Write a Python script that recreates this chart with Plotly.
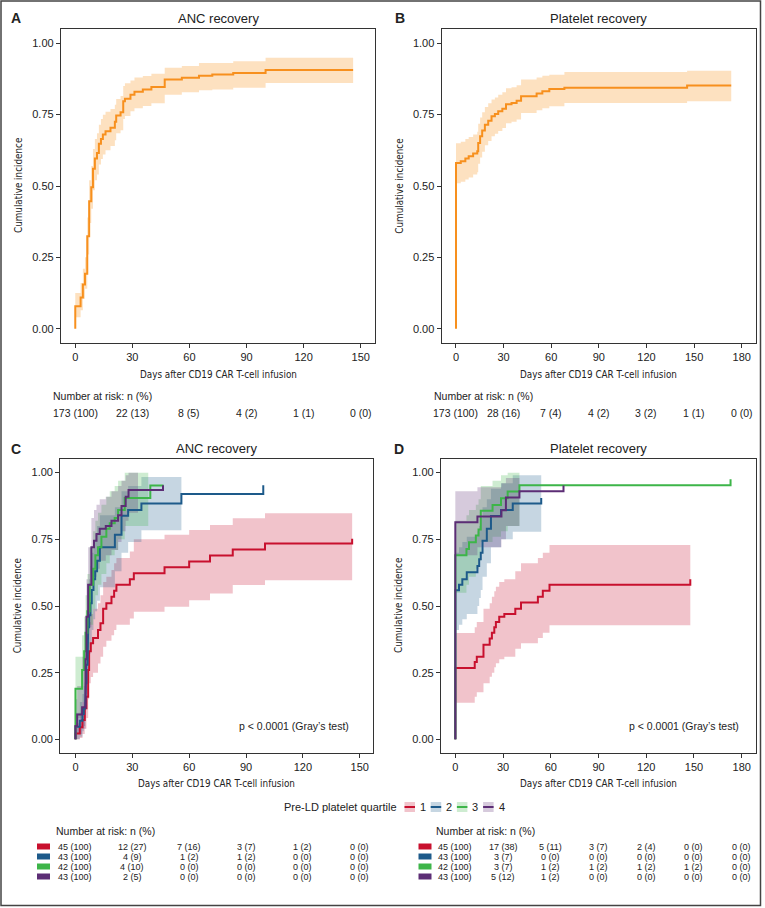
import plotly.graph_objects as go

# ---------------- data ----------------
# Panel A: ANC recovery (all patients)
A_t  = [0, 2.8, 4.0, 5.1, 6.3, 7.3, 8.4, 9.3, 10.3, 11.4, 12.4, 13.5, 14.5, 15.9, 18.5, 20.8, 21.5, 23.8, 25.2, 26.1, 29, 31.1, 35.5, 40, 47, 56, 65, 72, 83, 100]
A_ci = [0.079, 0.109, 0.155, 0.193, 0.324, 0.447, 0.496, 0.56, 0.596, 0.616, 0.648, 0.665, 0.68, 0.692, 0.704, 0.725, 0.747, 0.758, 0.797, 0.806, 0.82, 0.83, 0.838, 0.847, 0.873, 0.879, 0.886, 0.891, 0.896, 0.906]
A_lo = [0.04, 0.065, 0.105, 0.14, 0.26, 0.37, 0.42, 0.485, 0.52, 0.54, 0.575, 0.595, 0.61, 0.625, 0.64, 0.66, 0.685, 0.695, 0.735, 0.745, 0.762, 0.772, 0.78, 0.79, 0.82, 0.828, 0.835, 0.838, 0.844, 0.861]
A_hi = [0.125, 0.16, 0.21, 0.25, 0.39, 0.52, 0.57, 0.63, 0.665, 0.685, 0.715, 0.735, 0.75, 0.76, 0.77, 0.785, 0.805, 0.815, 0.85, 0.86, 0.87, 0.88, 0.885, 0.893, 0.914, 0.92, 0.931, 0.931, 0.937, 0.949]
A_end = 146

# Panel B: Platelet recovery (all patients)
B_t  = [0, 3.0, 5.9, 8, 10.8, 13.4, 14, 15.2, 16.5, 18.2, 20.3, 22.4, 24.5, 26.6, 29.2, 31.5, 35, 38.2, 41, 50.8, 54.4, 58.8, 68.3, 145.6]
B_ci = [0.581, 0.587, 0.596, 0.604, 0.614, 0.622, 0.651, 0.674, 0.694, 0.715, 0.729, 0.744, 0.752, 0.762, 0.771, 0.786, 0.791, 0.799, 0.814, 0.824, 0.832, 0.840, 0.844, 0.852]
B_lo = [0.51, 0.515, 0.523, 0.53, 0.54, 0.548, 0.578, 0.60, 0.62, 0.643, 0.658, 0.674, 0.683, 0.693, 0.703, 0.72, 0.725, 0.733, 0.756, 0.765, 0.772, 0.779, 0.791, 0.797]
B_hi = [0.65, 0.655, 0.665, 0.672, 0.68, 0.69, 0.718, 0.74, 0.758, 0.777, 0.79, 0.803, 0.81, 0.82, 0.828, 0.842, 0.846, 0.853, 0.873, 0.88, 0.886, 0.89, 0.899, 0.904]
B_end = 173.4

# Panel C: ANC recovery by pre-LD platelet quartile
Cq1_t  = [0, 2.3, 3.7, 4.9, 5.8, 6.7, 7.2, 8.1, 9.3, 11.9, 13.2, 14.6, 16.3, 19, 20.4, 21.6, 28.7, 30.8, 47, 60, 71, 83, 100, 146]
Cq1_ci = [0.022, 0.045, 0.073, 0.117, 0.16, 0.26, 0.33, 0.36, 0.38, 0.41, 0.435, 0.49, 0.51, 0.535, 0.557, 0.58, 0.60, 0.623, 0.645, 0.667, 0.689, 0.712, 0.734, 0.752]
Cq1_lo = [0.0, 0.005, 0.02, 0.04, 0.08, 0.15, 0.21, 0.234, 0.25, 0.284, 0.31, 0.347, 0.37, 0.39, 0.41, 0.43, 0.453, 0.478, 0.497, 0.522, 0.547, 0.579, 0.597, 0.597]
Cq1_hi = [0.06, 0.1, 0.14, 0.2, 0.25, 0.37, 0.44, 0.47, 0.49, 0.51, 0.54, 0.59, 0.61, 0.635, 0.66, 0.68, 0.704, 0.75, 0.767, 0.785, 0.804, 0.829, 0.848, 0.87]
Cq1_end, Cq1_band_end = 146, 146

Cq2_t  = [0, 2.3, 3.7, 4.4, 5.1, 5.5, 5.8, 6.4, 6.7, 7.2, 7.9, 8.6, 9.5, 10.4, 11.4, 12.9, 20.8, 24.3, 27.8, 34.8, 55.9, 99.1]
Cq2_ci = [0.047, 0.07, 0.095, 0.116, 0.16, 0.21, 0.28, 0.35, 0.42, 0.465, 0.51, 0.56, 0.60, 0.63, 0.67, 0.72, 0.767, 0.838, 0.86, 0.884, 0.92, 0.953]
Cq2_lo = [0.0, 0.01, 0.03, 0.05, 0.08, 0.12, 0.17, 0.23, 0.28, 0.32, 0.36, 0.41, 0.45, 0.48, 0.52, 0.57, 0.63, 0.70, 0.74, 0.784]
Cq2_hi = [0.10, 0.14, 0.17, 0.20, 0.25, 0.31, 0.39, 0.47, 0.55, 0.60, 0.65, 0.70, 0.74, 0.77, 0.80, 0.84, 0.87, 0.93, 0.95, 0.984]
Cq2_end, Cq2_band_end = 99.1, 55.9

Cq3_t  = [0, 3.5, 4.6, 5.3, 6.3, 7.5, 9.3, 10.5, 11.9, 13.7, 16.3, 18.1, 20.7, 22.5, 26, 39.5]
Cq3_ci = [0.19, 0.26, 0.33, 0.40, 0.48, 0.58, 0.64, 0.69, 0.72, 0.76, 0.79, 0.81, 0.83, 0.86, 0.905, 0.952]
Cq3_lo = [0.08, 0.14, 0.20, 0.26, 0.33, 0.43, 0.49, 0.54, 0.58, 0.62, 0.66, 0.69, 0.71, 0.75, 0.80]
Cq3_hi = [0.31, 0.39, 0.46, 0.54, 0.62, 0.72, 0.78, 0.82, 0.85, 0.88, 0.91, 0.93, 0.95, 0.97, 1.0]
Cq3_end, Cq3_band_end = 46.5, 38.4

Cq4_t  = [0, 0.9, 3.5, 5.3, 5.8, 6.7, 8.4, 9.8, 11.1, 12.8, 16, 19, 22.5, 24.3, 26.5, 28, 46.2]
Cq4_ci = [0.05, 0.093, 0.12, 0.3, 0.46, 0.58, 0.72, 0.745, 0.77, 0.79, 0.80, 0.82, 0.84, 0.875, 0.91, 0.935, 0.953]
Cq4_lo = [0.0, 0.02, 0.04, 0.15, 0.30, 0.42, 0.58, 0.61, 0.64, 0.67, 0.69, 0.71, 0.74, 0.78, 0.82, 0.85]
Cq4_hi = [0.15, 0.2, 0.31, 0.45, 0.60, 0.72, 0.83, 0.86, 0.88, 0.90, 0.91, 0.93, 0.95, 0.97, 0.99, 1.0]
Cq4_end, Cq4_band_end = 46.2, 33

# Panel D: Platelet recovery by pre-LD platelet quartile
Dq1_t  = [0, 12.2, 13.5, 17.7, 21.6, 23, 24.5, 25.5, 27.6, 30.8, 37.7, 41.3, 51.9, 55, 59.2, 147.7]
Dq1_ci = [0.268, 0.29, 0.31, 0.355, 0.378, 0.40, 0.42, 0.44, 0.46, 0.47, 0.49, 0.513, 0.535, 0.557, 0.58, 0.60]
Dq1_lo = [0.137, 0.16, 0.177, 0.21, 0.235, 0.25, 0.27, 0.285, 0.30, 0.31, 0.34, 0.36, 0.38, 0.40, 0.428, 0.45]
Dq1_hi = [0.399, 0.42, 0.44, 0.49, 0.51, 0.535, 0.555, 0.572, 0.59, 0.60, 0.63, 0.66, 0.68, 0.70, 0.729, 0.754]
Dq1_end, Dq1_band_end = 147.7, 147.7

Dq2_t  = [0, 2.3, 4.4, 7.2, 13.9, 15, 16, 17.1, 19.8, 22.4, 28.7, 36.1, 54]
Dq2_ci = [0.559, 0.58, 0.60, 0.627, 0.65, 0.675, 0.70, 0.745, 0.79, 0.837, 0.86, 0.884, 0.905]
Dq2_lo = [0.41, 0.43, 0.45, 0.47, 0.50, 0.53, 0.56, 0.61, 0.66, 0.72, 0.75, 0.778]
Dq2_hi = [0.70, 0.72, 0.74, 0.76, 0.78, 0.80, 0.83, 0.87, 0.90, 0.94, 0.96, 0.99]
Dq2_end, Dq2_band_end = 54, 54

Dq3_t  = [0, 7, 8.6, 12.9, 14.6, 16, 23.4, 28.7, 32.9, 40.3, 173]
Dq3_ci = [0.69, 0.714, 0.739, 0.764, 0.787, 0.857, 0.879, 0.904, 0.929, 0.953, 0.975]
Dq3_lo = [0.55, 0.58, 0.61, 0.64, 0.67, 0.74, 0.76, 0.78, 0.80]
Dq3_hi = [0.82, 0.84, 0.86, 0.88, 0.90, 0.95, 0.97, 0.99, 1.0]
Dq3_end, Dq3_band_end = 173, 40.3

Dq4_t  = [0, 13.9, 29, 31.8, 40.3, 68]
Dq4_ci = [0.814, 0.836, 0.859, 0.907, 0.930, 0.952]
Dq4_lo = [0.69, 0.72, 0.75, 0.80]
Dq4_hi = [0.93, 0.945, 0.96, 0.98]
Dq4_end, Dq4_band_end = 68, 40.3

# risk tables
AC_days = [0, 30, 60, 90, 120, 150]
BD_days = [0, 30, 60, 90, 120, 150, 180]
A_risk = ["173 (100)", "22 (13)", "8 (5)", "4 (2)", "1 (1)", "0 (0)"]
B_risk = ["173 (100)", "28 (16)", "7 (4)", "4 (2)", "3 (2)", "1 (1)", "0 (0)"]
C_risk = [
    ["45 (100)", "12 (27)", "7 (16)", "3 (7)", "1 (2)", "0 (0)"],
    ["43 (100)", "4 (9)", "1 (2)", "1 (2)", "0 (0)", "0 (0)"],
    ["42 (100)", "4 (10)", "0 (0)", "0 (0)", "0 (0)", "0 (0)"],
    ["43 (100)", "2 (5)", "0 (0)", "0 (0)", "0 (0)", "0 (0)"],
]
D_risk = [
    ["45 (100)", "17 (38)", "5 (11)", "3 (7)", "2 (4)", "0 (0)", "0 (0)"],
    ["43 (100)", "3 (7)", "0 (0)", "0 (0)", "0 (0)", "0 (0)", "0 (0)"],
    ["42 (100)", "3 (7)", "1 (2)", "1 (2)", "1 (2)", "1 (2)", "0 (0)"],
    ["43 (100)", "5 (12)", "1 (2)", "0 (0)", "0 (0)", "0 (0)", "0 (0)"],
]
quartiles = ["1", "2", "3", "4"]
y_ticks = [0, 0.25, 0.5, 0.75, 1.0]

# ---------------- style ----------------
W, H = 765, 908
FONT = "Liberation Sans, Arial, Helvetica, sans-serif"
NARROW = "Liberation Sans Narrow, Arial Narrow, DejaVu Sans Condensed, Liberation Sans, sans-serif"
TXT = "#222222"
ORANGE, ORANGE_BAND = "#F7901E", "rgba(247,148,29,0.28)"
Q_LINE = ["#C8102E", "#1D5A8A", "#3DB549", "#5C2D75"]
Q_BAND = ["rgba(200,16,46,0.25)", "rgba(29,90,138,0.25)", "rgba(61,181,73,0.25)", "rgba(92,45,117,0.25)"]


def px(xp):
    return xp / W


def py(yp):
    return 1 - yp / H


def step_xy(t, v, t_end, start_zero=False):
    xs, ys = [], []
    if start_zero:
        xs.append(t[0]); ys.append(0)
    for i in range(len(t)):
        if i > 0:
            xs.append(t[i]); ys.append(v[i - 1])
        xs.append(t[i]); ys.append(v[i])
    if t_end > t[-1]:
        xs.append(t_end); ys.append(v[-1])
    return xs, ys


fig = go.Figure()


def add_band(t, lo, hi, t_end, color, ax):
    n = len(lo)
    ux, uy = step_xy(t[:n], hi, t_end)
    lx, ly = step_xy(t[:n], lo, t_end)
    fig.add_trace(go.Scatter(x=ux + lx[::-1], y=uy + ly[::-1], fill="toself", fillcolor=color,
                             line=dict(width=0), mode="lines", hoverinfo="skip", showlegend=False,
                             xaxis="x" + ax, yaxis="y" + ax))


def add_line(t, v, t_end, color, ax, width=2):
    x, y = step_xy(t, v, t_end, start_zero=True)
    fig.add_trace(go.Scatter(x=x, y=y, mode="lines", line=dict(color=color, width=width),
                             showlegend=False, xaxis="x" + ax, yaxis="y" + ax))


# Panel A / B
add_band(A_t, A_lo, A_hi, A_end, ORANGE_BAND, "")
add_line(A_t, A_ci, A_end, ORANGE, "")
add_band(B_t, B_lo, B_hi, B_end, ORANGE_BAND, "2")
add_line(B_t, B_ci, B_end, ORANGE, "2")

C_series = [(Cq1_t, Cq1_ci, Cq1_lo, Cq1_hi, Cq1_end, Cq1_band_end),
            (Cq2_t, Cq2_ci, Cq2_lo, Cq2_hi, Cq2_end, Cq2_band_end),
            (Cq3_t, Cq3_ci, Cq3_lo, Cq3_hi, Cq3_end, Cq3_band_end),
            (Cq4_t, Cq4_ci, Cq4_lo, Cq4_hi, Cq4_end, Cq4_band_end)]
D_series = [(Dq1_t, Dq1_ci, Dq1_lo, Dq1_hi, Dq1_end, Dq1_band_end),
            (Dq2_t, Dq2_ci, Dq2_lo, Dq2_hi, Dq2_end, Dq2_band_end),
            (Dq3_t, Dq3_ci, Dq3_lo, Dq3_hi, Dq3_end, Dq3_band_end),
            (Dq4_t, Dq4_ci, Dq4_lo, Dq4_hi, Dq4_end, Dq4_band_end)]
for ax, series in (("3", C_series), ("4", D_series)):
    for i, (t, v, lo, hi, te, be) in enumerate(series):
        add_band(t, lo, hi, be, Q_BAND[i], ax)
    for i, (t, v, lo, hi, te, be) in enumerate(series):
        add_line(t, v, te, Q_LINE[i], ax)

# ---------------- axes ----------------
panels = {
    "": dict(xd=(61, 375), yd=(29, 343), xr=[-7.5, 157.5], dt=AC_days),
    "2": dict(xd=(441.7, 756), yd=(29, 343), xr=[-9, 189], dt=BD_days),
    "3": dict(xd=(60.3, 373), yd=(459.3, 752.7), xr=[-8, 157], dt=AC_days),
    "4": dict(xd=(441, 756), yd=(459.3, 752.7), xr=[-9, 189], dt=BD_days),
}
axis_common = dict(showgrid=False, zeroline=False, showline=True, linecolor="#333333", linewidth=1.3,
                   mirror=True, ticks="outside", ticklen=4, tickcolor="#333333", tickwidth=1,
                   tickfont=dict(family=FONT, size=11, color=TXT))
lay = {}
for ax, p in panels.items():
    xname = "xaxis" + ax
    yname = "yaxis" + ax
    lay[xname] = dict(axis_common, domain=[px(p["xd"][0]), px(p["xd"][1])], range=p["xr"],
                      tickvals=p["dt"], anchor="y" + ax)
    lay[yname] = dict(axis_common, domain=[py(p["yd"][1]), py(p["yd"][0])], range=[-0.05, 1.05],
                      tickvals=y_ticks, ticktext=["%.2f" % v for v in y_ticks], anchor="x" + ax)

ann = []
shapes = []


def text(t, x, y, size=11, family=FONT, xanchor="center", xref="paper", angle=0, bold=False):
    if bold:
        t = "<b>" + t + "</b>"
    ann.append(dict(text=t, x=x if xref != "paper" else px(x), y=py(y), xref=xref, yref="paper",
                    showarrow=False, xanchor=xanchor, yanchor="middle", textangle=angle,
                    font=dict(family=family, size=size, color=TXT)))


titles = [("A", "ANC recovery", 16, 18), ("B", "Platelet recovery", 400, 18),
          ("C", "ANC recovery", 16, 448.5), ("D", "Platelet recovery", 399, 448.5)]
for (letter, ttl, lx, ty), (ax, p) in zip(titles, panels.items()):
    text(letter, lx, ty, size=14, bold=True)
    text(ttl, (p["xd"][0] + p["xd"][1]) / 2, ty, size=13)
    yc = (p["yd"][0] + p["yd"][1]) / 2
    text("Cumulative incidence", p["xd"][0] - 43, yc, size=9.8, family=NARROW, angle=-90)
    text("Days after CD19 CAR T-cell infusion", (p["xd"][0] + p["xd"][1]) / 2, p["yd"][1] + 31,
         size=9.8, family=NARROW)

# p-values
text("p &lt; 0.0001 (Gray’s test)", 351, 725.7, size=10.5, xanchor="right")
text("p &lt; 0.0001 (Gray’s test)", 741, 725.7, size=10.5, xanchor="right")

# risk tables A, B
text("Number at risk: n (%)", 51, 396, size=10.5, xanchor="left")
text("Number at risk: n (%)", 432, 396, size=10.5, xanchor="left")
for d, s in zip(AC_days, A_risk):
    text(s, d, 412.7, size=10.5, xref="x")
for d, s in zip(BD_days, B_risk):
    text(s, d, 412.7, size=10.5, xref="x2")

# risk tables C, D
row_y = [846.5, 856.5, 866.5, 876.5]
text("Number at risk: n (%)", 54, 830.7, size=10.5, xanchor="left")
text("Number at risk: n (%)", 434, 830.7, size=10.5, xanchor="left")
for r, yv in enumerate(row_y):
    for d, s in zip(AC_days, C_risk[r]):
        text(s, d, yv, size=9, xref="x3")
    for d, s in zip(BD_days, D_risk[r]):
        text(s, d, yv, size=9, xref="x4")
    for x0 in (37, 418.5):
        shapes.append(dict(type="rect", xref="paper", yref="paper", x0=px(x0), x1=px(x0 + 13),
                           y0=py(yv + 3), y1=py(yv - 3), fillcolor=Q_LINE[r], line=dict(width=0)))

# legend
text("Pre-LD platelet quartile", 399, 807, size=11, xanchor="right")
for i, q in enumerate(quartiles):
    k0 = 404.5 + i * 26.2
    shapes.append(dict(type="rect", xref="paper", yref="paper", x0=px(k0), x1=px(k0 + 10.5),
                       y0=py(812), y1=py(802), fillcolor=Q_BAND[i], line=dict(width=0)))
    shapes.append(dict(type="line", xref="paper", yref="paper", x0=px(k0), x1=px(k0 + 10.5),
                       y0=py(807), y1=py(807), line=dict(color=Q_LINE[i], width=2)))
    text(q, k0 + 13.5, 807, size=11, xanchor="left")

# outer frame
shapes.append(dict(type="rect", xref="paper", yref="paper", x0=px(1), x1=px(760.5), y0=py(905.5), y1=py(1),
                   line=dict(color="#444444", width=1.5), fillcolor="rgba(0,0,0,0)"))

fig.update_layout(width=W, height=H, margin=dict(l=0, r=0, t=0, b=0),
                  paper_bgcolor="white", plot_bgcolor="white", showlegend=False,
                  annotations=ann, shapes=shapes, **lay)
fig.write_html("out.html", config={"displayModeBar": False},
               post_script="document.body.style.margin='0px';document.body.style.overflow='hidden';")
